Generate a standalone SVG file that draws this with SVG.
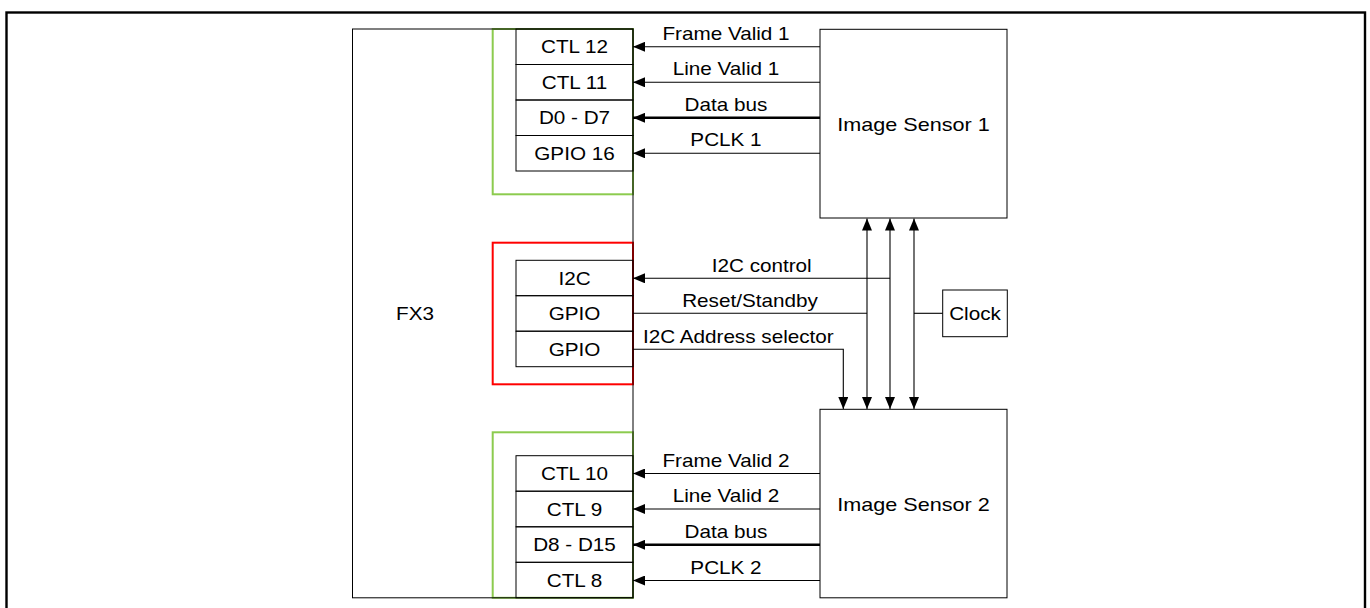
<svg xmlns="http://www.w3.org/2000/svg" width="1370" height="608" viewBox="0 0 1370 608">
<style>
.t{font-family:"Liberation Sans",Arial,sans-serif;font-size:18px;fill:#000;text-anchor:middle}
.b{fill:none;stroke:#000;stroke-width:1}
.g{fill:none;stroke:#8CCB4E;stroke-width:2}
.r{fill:none;stroke:#FF0000;stroke-width:2}
.c{fill:none;stroke:#000;stroke-width:1.1}
.cb{fill:none;stroke:#000;stroke-width:2.6}
.a{marker-end:url(#ah)}
.aa{marker-start:url(#ah);marker-end:url(#ah)}
</style>
<defs>
<marker id="ah" viewBox="0 0 12 10" refX="12" refY="5" markerWidth="12" markerHeight="10" markerUnits="userSpaceOnUse" orient="auto-start-reverse">
<path d="M0,0 L12,5 L0,10 z" fill="#000"/>
</marker>
</defs>
<rect x="0" y="0" width="1370" height="608" fill="#fff"/>
<rect x="6.5" y="12.5" width="1358.5" height="620" fill="none" stroke="#000" stroke-width="2.4"/>

<g id="fx3">
<rect class="g" x="492.7" y="29" width="140.3" height="165.3"/>
<rect class="r" x="492.7" y="242.7" width="140.3" height="141.6"/>
<rect class="g" x="492.7" y="432.3" width="140.3" height="165.5"/>
<rect class="b" x="352.5" y="29" width="280.5" height="568.8"/>
<text class="t" transform="translate(415 320) scale(1.15 1)">FX3</text>
</g>

<g id="pins-sensor1">
<rect class="b" x="516" y="29" width="117" height="35.5"/>
<rect class="b" x="516" y="64.5" width="117" height="35.5"/>
<rect class="b" x="516" y="100" width="117" height="35.5"/>
<rect class="b" x="516" y="135.5" width="117" height="35.5"/>
<text class="t" transform="translate(574.5 53.2) scale(1.15 1)">CTL 12</text>
<text class="t" transform="translate(574.5 88.7) scale(1.15 1)">CTL 11</text>
<text class="t" transform="translate(574.5 124.2) scale(1.15 1)">D0 - D7</text>
<text class="t" transform="translate(574.5 159.7) scale(1.15 1)">GPIO 16</text>
</g>

<g id="pins-control">
<rect class="b" x="516" y="260.3" width="117" height="35.4"/>
<rect class="b" x="516" y="295.7" width="117" height="35.5"/>
<rect class="b" x="516" y="331.2" width="117" height="35.5"/>
<text class="t" transform="translate(574.5 284.5) scale(1.15 1)">I2C</text>
<text class="t" transform="translate(574.5 320) scale(1.15 1)">GPIO</text>
<text class="t" transform="translate(574.5 355.5) scale(1.15 1)">GPIO</text>
</g>

<g id="pins-sensor2">
<rect class="b" x="516" y="455.7" width="117" height="35.5"/>
<rect class="b" x="516" y="491.2" width="117" height="35.6"/>
<rect class="b" x="516" y="526.8" width="117" height="35.5"/>
<rect class="b" x="516" y="562.3" width="117" height="35.5"/>
<text class="t" transform="translate(574.5 480) scale(1.15 1)">CTL 10</text>
<text class="t" transform="translate(574.5 515.5) scale(1.15 1)">CTL 9</text>
<text class="t" transform="translate(574.5 551) scale(1.15 1)">D8 - D15</text>
<text class="t" transform="translate(574.5 586.5) scale(1.15 1)">CTL 8</text>
</g>

<g id="sensor1">
<rect class="b" x="820" y="29.3" width="187" height="188.7"/>
<text class="t" transform="translate(913.5 130.5) scale(1.2 1)">Image Sensor 1</text>
</g>

<g id="sensor2">
<rect class="b" x="820" y="409.3" width="187" height="188.5"/>
<text class="t" transform="translate(913.5 510.5) scale(1.2 1)">Image Sensor 2</text>
</g>

<g id="clock">
<rect class="b" x="942.7" y="290" width="64.6" height="46.7"/>
<text class="t" transform="translate(975 319.8) scale(1.15 1)">Clock</text>
</g>

<g id="connectors">
<line class="c a" x1="820" y1="46.8" x2="633" y2="46.8"/>
<line class="c a" x1="820" y1="82.3" x2="633" y2="82.3"/>
<line class="cb a" x1="820" y1="117.8" x2="633" y2="117.8"/>
<line class="c a" x1="820" y1="153.3" x2="633" y2="153.3"/>
<text class="t" transform="translate(726 40) scale(1.15 1)">Frame Valid 1</text>
<text class="t" transform="translate(726 75.3) scale(1.15 1)">Line Valid 1</text>
<text class="t" transform="translate(726 111) scale(1.15 1)">Data bus</text>
<text class="t" transform="translate(726 146.3) scale(1.15 1)">PCLK 1</text>

<line class="c a" x1="820" y1="473.5" x2="633" y2="473.5"/>
<line class="c a" x1="820" y1="509" x2="633" y2="509"/>
<line class="cb a" x1="820" y1="544.8" x2="633" y2="544.8"/>
<line class="c a" x1="820" y1="580.5" x2="633" y2="580.5"/>
<text class="t" transform="translate(726 466.5) scale(1.15 1)">Frame Valid 2</text>
<text class="t" transform="translate(726 502) scale(1.15 1)">Line Valid 2</text>
<text class="t" transform="translate(726 538) scale(1.15 1)">Data bus</text>
<text class="t" transform="translate(726 573.5) scale(1.15 1)">PCLK 2</text>

<line class="c aa" x1="867" y1="218.5" x2="867" y2="409"/>
<line class="c aa" x1="890" y1="218.5" x2="890" y2="409"/>
<line class="c aa" x1="914" y1="218.5" x2="914" y2="409"/>
<line class="c a" x1="890" y1="278.3" x2="633" y2="278.3"/>
<line class="c" x1="633" y1="313.3" x2="867" y2="313.3"/>
<polyline class="c a" points="633,349.3 843.3,349.3 843.3,409"/>
<line class="c" x1="914" y1="313.3" x2="942.7" y2="313.3"/>
<text class="t" transform="translate(761.7 272.3) scale(1.15 1)">I2C control</text>
<text class="t" transform="translate(750 307.3) scale(1.15 1)">Reset/Standby</text>
<text class="t" transform="translate(738.3 342.7) scale(1.15 1)">I2C Address selector</text>
</g>
</svg>
